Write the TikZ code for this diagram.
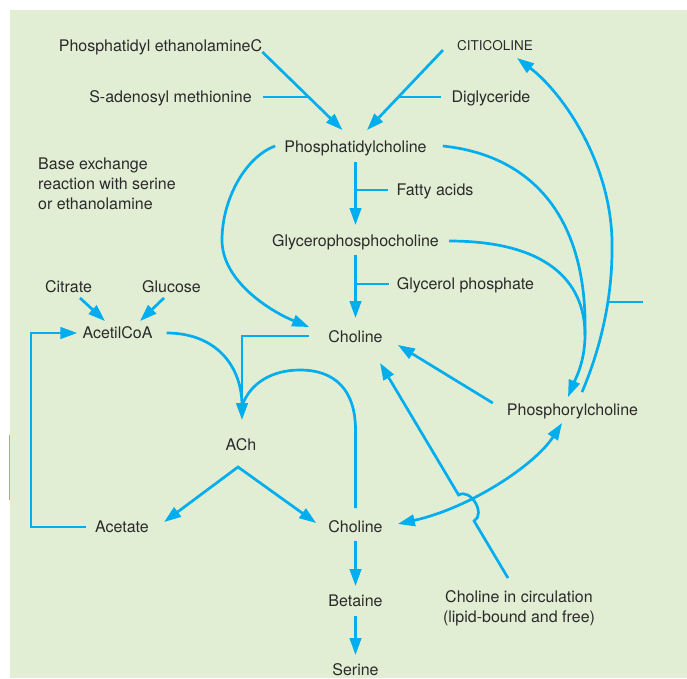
\documentclass[tikz,border=0pt]{standalone}
\usepackage{fontspec}
\setmainfont{TeX Gyre Heros}
\usetikzlibrary{arrows.meta}

\definecolor{bgreen}{HTML}{E2EED4}
\definecolor{pathblue}{HTML}{00AEEF}
\definecolor{inkgray}{HTML}{2A2A2A}

\tikzset{
  lbl/.style={inner sep=0pt, text=inkgray, text height=11.5pt, text depth=0pt,
    font=\fontsize{16}{20}\selectfont},
  note/.style={inner sep=0pt, text=inkgray, align=left,
    font=\fontsize{16}{20}\selectfont},
  ln/.style={draw=pathblue, line width=2.7pt},
  arr/.style={ln, -{Triangle[length=17pt,width=11.5pt]}},
  arrboth/.style={ln, {Triangle[length=17pt,width=11.5pt]}-{Triangle[length=17pt,width=11.5pt]}},
}

\begin{document}
\begin{tikzpicture}[x=1pt, y=-1pt]

    % Page and background.
    \useasboundingbox (0,0) rectangle (687,678);
    \fill[bgreen] (10,10) rectangle (687,678);
    \draw[pathblue!70, line width=0.8pt] (9.5,435) -- (9.5,500);

    % Compounds.
    \node[lbl] (pe)   at (160.5, 46) {Phosphatidyl ethanolamineC};
    \node[lbl, text height=9.7pt, font=\fontsize{13.5}{16}\selectfont]
               (cit)  at (495, 46) {CITICOLINE};
    \node[lbl] (sam)  at (170.5, 97) {S-adenosyl methionine};
    \node[lbl] (dig)  at (491, 97) {Diglyceride};
    \node[lbl] (pc)   at (355.5, 147) {Phosphatidylcholine};
    \node[lbl] (fa)   at (435, 190) {Fatty acids};
    \node[lbl] (gpc)  at (355.5, 241) {Glycerophosphocholine};
    \node[lbl] (gp)   at (465.5, 284) {Glycerol phosphate};
    \node[lbl] (citr) at (68.5, 287) {Citrate};
    \node[lbl] (glu)  at (171.5, 287) {Glucose};
    \node[lbl] (aca)  at (117.5, 333) {AcetilCoA};
    \node[lbl] (ch1)  at (355.5, 337) {Choline};
    \node[lbl] (prc)  at (572.5, 410) {Phosphorylcholine};
    \node[lbl] (ach)  at (241, 445) {ACh};
    \node[lbl] (act)  at (122, 527) {Acetate};
    \node[lbl] (ch2)  at (355.5, 527) {Choline};
    \node[lbl] (bet)  at (355.5, 601) {Betaine};
    \node[lbl] (ser)  at (355.5, 669.5) {Serine};

    % Notes.
    \node[note, anchor=north west] (base) at (38, 158)
        {Base exchange\\reaction with serine\\or ethanolamine};
    \node[note, align=center, anchor=north] (circ) at (519, 590)
        {Choline in circulation\\(lipid-bound and free)};

    % Coordinates for junctions and free ends.
    \coordinate (pcm)     at (585, 335);
    \coordinate (cjoin)   at (609, 302);
    \coordinate (stub)    at (643, 302);
    \coordinate (hopL)    at (474.1, 521);
    \coordinate (hopU)    at (458.6, 495);
    \coordinate (loopA)   at (355.5, 430);
    \coordinate (achj)    at (242, 406);
    \coordinate (split)   at (238, 467);
    \coordinate (recycle) at (31, 527);

    % Synthesis of phosphatidylcholine.
    \draw[arr] (pe.south east) -- coordinate[pos=0.576] (samj)
        ([shift={(-13,-11)}]pc.north);
    \draw[ln] ([shift={(11,0)}]sam.east) -- (samj |- sam.east);
    \draw[arr] ([shift={(-14,-1)}]cit.south west) -- coordinate[pos=0.586] (digj)
        ([shift={(11.5,-11)}]pc.north);
    \draw[ln] ([shift={(-10,0)}]dig.west) -- (digj |- dig.west);

    % Breakdown down the middle column.
    \draw[arr, shorten <=9pt, shorten >=10pt] (pc) -- (gpc);
    \draw[ln] ([shift={(-8,0)}]fa.west) -- (fa.west -| pc.south);
    \draw[arr, shorten <=8pt, shorten >=13pt] (gpc) -- (ch1);
    \draw[ln] ([shift={(-8,0)}]gp.west) -- (gp.west -| gpc.south);

    % Base exchange.
    \draw[arr] ([shift={(-9,-1)}]pc.west) .. controls (245,157) and (222,200) .. (222,240)
        .. controls (222,282) and (272,312) .. ([shift={(-19,-10)}]ch1.west);

    % To phosphorylcholine and back to citicoline.
    \draw[arr] ([shift={(16,-1)}]pc.east) .. controls (530,155) and (588,215) .. (pcm)
        .. controls (585,362) and (575,380) .. ([shift={(-4.5,-7)}]prc.north);
    \draw[ln] ([shift={(10,0)}]gpc.east) .. controls (545,241) and (585,280) .. (pcm);
    \draw[arr] ([shift={(9.5,-12)}]prc.north) .. controls (600,350) and (612,300) .. (612,250)
        .. controls (614,165) and (562,92) .. ([shift={(22,7)}]cit.south);
    \draw[ln] (cjoin) -- (stub);

    % Into free choline.
    \draw[arr] ([shift={(-14,-7)}]prc.west) -- ([shift={(15,2)}]ch1.south east);
    \draw[arr] ([shift={(-11,-12)}]circ.north) -- (hopL)
        .. controls (486.1,513.8) and (470.6,487.8) .. (hopU)
        -- ([shift={(24.5,20)}]ch1.south);
    \draw[arrboth] ([shift={(15,-3)}]ch2.east) .. controls (470,508) and (535,465)
        .. ([shift={(-10.5,7)}]prc.south);

    % Acetylcholine cycle.
    \draw[arr] ([shift={(-19,-1)}]ch1.west) -| ([shift={(1,-19)}]ach.north);
    \draw[ln] ([shift={(0,-13)}]ch2.north) -- (loopA) .. controls (355.5,390) and (335,370) .. (300,370)
        .. controls (272,370) and (250,383) .. (achj);
    \draw[ln] ([shift={(14,0)}]aca.east) .. controls (215,333) and (242,365) .. (achj);
    \draw[arr] ([shift={(11.5,5)}]citr.south) -- ([shift={(-12.5,-6)}]aca.north);
    \draw[arr] ([shift={(-7.5,5)}]glu.south) -- ([shift={(22.5,-6)}]aca.north);
    \draw[arrboth] ([shift={(15,1)}]act.north east) -- (split) -- ([shift={(-12,2)}]ch2.north west);
    \draw[arr] ([shift={(-9,0)}]act.west) -- (recycle) |- ([shift={(-5,0)}]aca.west);

    % Choline oxidation.
    \draw[arr, shorten <=8pt, shorten >=9pt] (ch2) -- (bet);
    \draw[arr, shorten <=9pt, shorten >=8.5pt] (bet) -- (ser);
\end{tikzpicture}
\end{document}
